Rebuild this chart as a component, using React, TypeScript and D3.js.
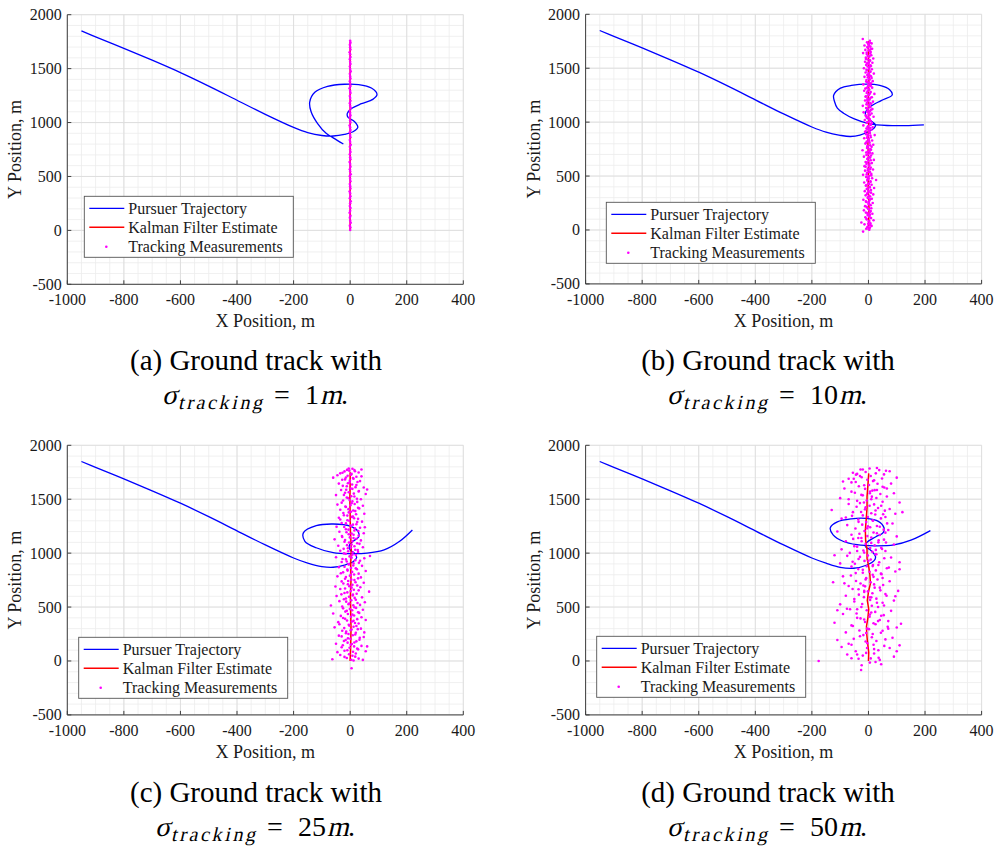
import React from 'react';
import * as d3 from 'd3';

// axis ticks and legend
const xTicks = [-1000, -800, -600, -400, -200, 0, 200, 400];
const yTicks = [-500, 0, 500, 1000, 1500, 2000];
const legendLabels = ['Pursuer Trajectory', 'Kalman Filter Estimate', 'Tracking Measurements'];
const captionLetters = ['a', 'b', 'c', 'd'];
const sigmaValues = ['1', '10', '25', '50'];

// pursuer approach leg, same in all four runs
const approach = [
  [-950, 1850], [-900, 1795], [-800, 1688], [-700, 1578], [-600, 1463], [-500, 1338],
  [-400, 1207], [-300, 1076], [-200, 955], [-150, 907],
];

const trajA = [...approach,
  [-100, 880], [-60, 875], [-20, 890], [10, 915], [27, 955], [15, 1010], [-8, 1050], [-10, 1085],
  [5, 1130], [40, 1175], [80, 1215], [95, 1260], [75, 1320], [30, 1352], [-20, 1355], [-80, 1335],
  [-125, 1280], [-143, 1190], [-138, 1100], [-115, 990], [-85, 900], [-60, 858], [-24, 801]];

const trajB = [...approach,
  [-100, 878], [-64, 867], [-30, 880], [1, 913], [20, 945], [25, 975], [12, 1005], [-5, 1040],
  [-11, 1083], [7, 1144], [45, 1200], [84, 1253], [75, 1300], [40, 1340], [-5, 1352], [-60, 1340],
  [-99, 1315], [-123, 1250], [-120, 1191], [-110, 1130], [-88, 1083], [-50, 1030], [-5, 991],
  [30, 975], [66, 969], [130, 968], [196, 975]];

const trajC = [...approach,
  [-100, 875], [-60, 869], [-20, 890], [10, 920], [23, 960], [15, 1000], [0, 1030], [-3, 1070],
  [10, 1110], [30, 1150], [28, 1200], [0, 1250], [-60, 1270], [-120, 1255], [-165, 1190],
  [-160, 1110], [-120, 1050], [-60, 1005], [0, 995], [60, 1000], [120, 1030], [175, 1110], [220, 1215]];

const trajD = [...approach,
  [-100, 868], [-52, 860], [-5, 890], [20, 930], [25, 967], [7, 1030], [-11, 1060], [-5, 1100],
  [25, 1150], [52, 1190], [55, 1235], [35, 1295], [-10, 1322], [-60, 1318], [-110, 1290],
  [-135, 1235], [-125, 1170], [-90, 1110], [-40, 1078], [20, 1068], [90, 1076], [150, 1120], [219, 1209]];

// Kalman filter estimates
const estA = [[0, 0], [0, 600], [0, 1200], [0, 1750]];
const estB = [[0, 0], [2, 200], [-1, 400], [1, 600], [-2, 800], [1, 1000], [-1, 1200], [2, 1400], [0, 1600], [0, 1750]];
const estC = [[0, 0], [2, 150], [3, 300], [2, 450], [1, 600], [3, 750], [2, 900], [4, 1050], [1, 1200], [0, 1350], [-1, 1500], [0, 1650], [0, 1750]];
const estD = [[0, 0], [1, 80], [-3, 165], [-6, 250], [-7, 320], [-2, 400], [1, 480], [-4, 560], [0, 640], [7, 720],
  [5, 800], [1, 875], [-5, 950], [-5, 1030], [-10, 1120], [-11, 1215], [-8, 1310], [-5, 1420], [-5, 1524], [-2, 1630], [1, 1740]];

// tracking measurements
const measA = [
  [0, 4], [1, 27], [-1, 44], [2, 71], [0, 90], [-1, 118], [1, 135], [-2, 163], [0, 181], [1, 207],
  [-1, 226], [0, 252], [2, 270], [-1, 298], [1, 317], [0, 343], [-2, 361], [1, 388], [0, 410], [-1, 429],
  [1, 456], [0, 478], [-1, 503], [2, 520], [0, 547], [-1, 566], [1, 591], [0, 615], [-2, 634], [1, 660],
  [0, 679], [-1, 706], [1, 727], [0, 748], [-1, 775], [2, 793], [0, 819], [-1, 838], [1, 864], [0, 884],
  [-1, 910], [1, 931], [0, 955], [-2, 973], [1, 1000], [0, 1019], [-1, 1046], [1, 1066], [0, 1090], [-1, 1111],
  [2, 1136], [0, 1156], [-1, 1180], [1, 1201], [0, 1227], [-1, 1246], [1, 1273], [0, 1292], [-2, 1317], [1, 1339],
  [0, 1362], [-1, 1384], [1, 1408], [0, 1428], [-1, 1453], [2, 1474], [0, 1497], [-1, 1519], [1, 1542], [0, 1563],
  [-1, 1588], [1, 1608], [0, 1633], [-2, 1652], [1, 1677], [0, 1699], [-1, 1722], [1, 1741], [0, 1758]];

const measB = [
  [3, 2], [-8, 12], [5, 20], [-2, 31], [11, 38], [-14, 52], [7, 61], [-25, 69], [1, 78], [18, 90],
  [-6, 98], [9, 110], [-11, 118], [4, 131], [-3, 139], [14, 150], [-9, 161], [6, 168], [-16, 182], [2, 190],
  [10, 201], [-5, 209], [-12, 221], [8, 230], [0, 242], [15, 250], [-7, 259], [3, 271], [-18, 280], [12, 290],
  [-2, 302], [6, 310], [-10, 321], [17, 330], [-4, 339], [1, 352], [-13, 360], [9, 371], [-6, 380], [20, 389],
  [4, 401], [-9, 410], [11, 420], [-1, 431], [-15, 440], [7, 452], [27, 464], [-3, 471], [13, 480], [-8, 492],
  [2, 500], [-19, 511], [10, 520], [-5, 531], [5, 540], [-12, 550], [16, 561], [-2, 570], [8, 580], [-14, 592],
  [3, 600], [-7, 612], [12, 620], [-10, 630], [0, 641], [19, 650], [-4, 659], [6, 671], [-16, 680], [9, 690],
  [-1, 702], [14, 710], [-8, 719], [3, 731], [-21, 740], [7, 749], [-5, 760], [11, 771], [-2, 780], [17, 790],
  [-11, 801], [4, 810], [-6, 821], [13, 830], [0, 839], [-15, 851], [8, 860], [-3, 871], [22, 880], [-9, 889],
  [5, 900], [-12, 911], [2, 920], [10, 930], [-7, 940], [15, 952], [-1, 961], [-18, 970], [6, 979], [12, 991],
  [-4, 1000], [8, 1011], [-13, 1020], [3, 1031], [-6, 1040], [18, 1050], [-10, 1061], [1, 1070], [11, 1080], [-17, 1091],
  [5, 1100], [-2, 1110], [14, 1121], [-8, 1130], [7, 1140], [-20, 1151], [2, 1160], [10, 1170], [-5, 1181], [16, 1190],
  [-12, 1200], [4, 1211], [-3, 1220], [12, 1231], [-9, 1240], [0, 1250], [21, 1262], [-6, 1270], [8, 1280], [-15, 1291],
  [3, 1300], [-11, 1311], [13, 1320], [-2, 1330], [6, 1341], [-18, 1350], [9, 1360], [-4, 1371], [15, 1380], [-7, 1390],
  [1, 1401], [11, 1410], [-14, 1420], [5, 1431], [-1, 1440], [19, 1450], [-10, 1461], [7, 1470], [-5, 1480], [12, 1491],
  [-16, 1500], [3, 1510], [9, 1521], [-8, 1530], [0, 1540], [14, 1551], [-12, 1560], [6, 1570], [-3, 1581], [17, 1590],
  [-9, 1600], [2, 1611], [10, 1620], [-6, 1631], [-19, 1640], [8, 1650], [4, 1661], [-11, 1670], [13, 1680], [-2, 1690],
  [7, 1700], [-14, 1711], [1, 1720], [11, 1730], [-5, 1740], [-20, 1771], [5, 1755], [-19, -15]];

const measBCore = [
  [1, 8], [-4, 25], [6, 45], [-1, 58], [3, 84], [-7, 104], [2, 125], [5, 144], [-3, 156], [8, 176],
  [-1, 196], [-6, 215], [4, 236], [1, 255], [-9, 265], [6, 284], [-2, 296], [3, 316], [-5, 334], [9, 346],
  [0, 365], [-3, 385], [5, 395], [-8, 415], [2, 426], [7, 446], [-4, 458], [1, 476], [-1, 486], [10, 506],
  [-6, 516], [3, 536], [-2, 555], [6, 566], [-10, 586], [1, 596], [4, 616], [-5, 625], [8, 646], [-1, 665],
  [2, 676], [-7, 696], [5, 715], [-3, 726], [9, 744], [0, 755], [-4, 775], [6, 785], [-8, 806], [2, 826],
  [1, 845], [-5, 856], [7, 875], [-2, 884], [4, 905], [-9, 916], [0, 935], [6, 946], [-3, 956], [8, 975],
  [-6, 995], [2, 1006], [4, 1026], [-1, 1046], [-8, 1056], [5, 1066], [1, 1086], [-4, 1096], [9, 1115], [-2, 1126],
  [3, 1146], [-7, 1165], [6, 1176], [0, 1196], [-4, 1206], [7, 1226], [-10, 1236], [2, 1256], [5, 1266], [-3, 1286],
  [1, 1306], [-6, 1316], [8, 1336], [-1, 1346], [3, 1366], [-8, 1376], [5, 1396], [-2, 1416], [9, 1426], [-4, 1436],
  [0, 1456], [6, 1466], [-7, 1486], [2, 1496], [-3, 1516], [7, 1526], [-5, 1546], [1, 1556], [4, 1576], [-9, 1586],
  [3, 1606], [-2, 1616], [6, 1636], [-6, 1646], [1, 1666], [8, 1676], [-4, 1696], [2, 1706], [-1, 1726], [5, 1736]];

const measC = [
  [-63, 16], [12, 5], [30, 22], [-20, 38], [45, 10], [-35, 55], [8, 48], [20, 70], [-45, 82], [55, 90],
  [-10, 100], [25, 115], [-30, 128], [40, 140], [2, 150], [-50, 160], [60, 135], [15, 172], [-22, 185], [33, 198],
  [-8, 210], [48, 222], [-40, 235], [18, 245], [-15, 258], [50, 265], [-28, 280], [5, 292], [38, 300], [-55, 312],
  [22, 325], [-5, 335], [30, 348], [-42, 360], [12, 372], [55, 380], [-18, 392], [40, 405], [-33, 418], [8, 430],
  [-60, 440], [28, 452], [-12, 465], [45, 475], [-25, 488], [15, 498], [-68, 514], [35, 520], [-3, 532], [52, 545],
  [-38, 555], [20, 568], [-15, 580], [42, 590], [-48, 602], [10, 615], [67, 643], [-20, 630], [30, 655], [-35, 668],
  [5, 680], [-52, 690], [25, 700], [-8, 712], [48, 725], [-30, 738], [15, 750], [-18, 762], [38, 775], [-45, 785],
  [2, 798], [30, 810], [-25, 822], [55, 835], [-10, 848], [20, 860], [-40, 870], [42, 882], [-5, 895], [12, 905],
  [-30, 918], [35, 930], [-15, 942], [50, 952], [-50, 962], [70, 974], [8, 985], [-22, 998], [28, 1010], [-35, 1022],
  [18, 1032], [-8, 1045], [45, 1055], [-42, 1068], [5, 1080], [25, 1092], [-20, 1105], [38, 1118], [-55, 1128], [12, 1140],
  [-28, 1150], [30, 1162], [-5, 1175], [48, 1185], [-38, 1198], [15, 1210], [-15, 1222], [35, 1235], [-48, 1245], [2, 1255],
  [22, 1268], [-30, 1280], [42, 1292], [-10, 1305], [28, 1318], [-40, 1328], [10, 1340], [-22, 1352], [50, 1365], [-5, 1378],
  [18, 1390], [-35, 1402], [32, 1415], [-15, 1428], [45, 1440], [-45, 1450], [5, 1462], [25, 1475], [-25, 1488], [38, 1500],
  [-8, 1512], [15, 1525], [-50, 1538], [55, 1548], [-18, 1560], [30, 1572], [-32, 1585], [8, 1596], [48, 1608], [-12, 1620],
  [22, 1632], [-40, 1645], [-2, 1655], [35, 1668], [-28, 1680], [12, 1690], [-15, 1702], [40, 1712], [-45, 1722], [5, 1735],
  [30, 1748], [-20, 1758], [15, 1770], [40, 1776], [-35, 1740], [5, -67], [-5, 1785], [60, 1590], [-60, 1700], [52, 1240]];

const measCCore = [
  [4, 12], [-12, 28], [18, 40], [-4, 62], [10, 85], [-20, 95], [28, 108], [-2, 122], [14, 135], [-26, 146],
  [6, 158], [-9, 170], [22, 182], [-16, 195], [1, 205], [34, 215], [-30, 228], [9, 238], [-6, 250], [20, 262],
  [-14, 272], [2, 285], [27, 295], [-21, 305], [12, 318], [-3, 328], [-38, 340], [17, 352], [6, 365], [-11, 376],
  [25, 388], [-25, 398], [3, 410], [14, 422], [-8, 436], [32, 446], [-17, 458], [7, 470], [-1, 482], [21, 492],
  [-28, 505], [11, 516], [-6, 527], [26, 538], [-14, 550], [4, 562], [-22, 573], [16, 585], [-4, 596], [9, 608],
  [-31, 618], [23, 624], [-10, 636], [2, 648], [13, 660], [-18, 672], [36, 684], [-3, 694], [8, 706], [-24, 718],
  [19, 730], [-7, 742], [4, 754], [28, 766], [-15, 778], [-1, 790], [14, 802], [-33, 814], [7, 826], [-9, 838],
  [24, 850], [3, 862], [-20, 874], [11, 886], [-5, 898], [31, 910], [-12, 922], [18, 934], [-27, 946], [5, 958],
  [-2, 970], [20, 982], [-16, 994], [9, 1006], [-7, 1018], [27, 1028], [-23, 1040], [3, 1052], [15, 1064], [-11, 1074],
  [33, 1086], [-4, 1098], [8, 1110], [-18, 1122], [22, 1134], [-1, 1146], [-29, 1158], [12, 1170], [5, 1182], [-13, 1194],
  [29, 1206], [-6, 1218], [17, 1230], [-21, 1242], [2, 1252], [10, 1264], [-15, 1276], [25, 1288], [-3, 1300], [-35, 1312],
  [14, 1324], [6, 1336], [-10, 1348], [21, 1360], [-24, 1372], [3, 1384], [11, 1396], [-6, 1408], [28, 1420], [-17, 1432],
  [1, 1444], [16, 1456], [-30, 1468], [8, 1480], [-2, 1492], [24, 1504], [-12, 1516], [4, 1528], [-22, 1540], [13, 1552],
  [-5, 1564], [31, 1576], [-14, 1588], [2, 1600], [19, 1612], [-26, 1624], [7, 1636], [-8, 1648], [26, 1660], [-1, 1672],
  [-18, 1684], [10, 1696], [22, 1708], [-9, 1718], [3, 1728], [-27, 1745], [17, 1760], [-11, 1772], [8, 1782], [-3, 1765]];

const measD = [
  [-176, 0], [-26, -83], [5, -15], [40, 10], [-60, 25], [90, 40], [-20, 50], [75, 120], [-95, 130], [20, 70],
  [-45, 90], [110, 145], [-70, 160], [35, 100], [-10, 180], [60, 200], [-110, 195], [85, 215], [-30, 230], [15, 250],
  [-80, 265], [50, 280], [-5, 300], [100, 310], [-55, 325], [25, 340], [-120, 355], [70, 370], [-15, 385], [115, 345],
  [-40, 400], [45, 420], [-90, 435], [10, 450], [80, 465], [-65, 480], [-25, 500], [55, 515], [-100, 525], [30, 540],
  [90, 560], [-50, 575], [5, 590], [-80, 605], [60, 620], [-15, 640], [105, 650], [-35, 665], [40, 680], [-70, 695],
  [20, 710], [-125, 730], [75, 740], [-10, 755], [50, 770], [-90, 785], [15, 800], [-45, 815], [95, 830], [-20, 845],
  [65, 860], [-60, 875], [35, 890], [-100, 905], [110, 915], [0, 930], [-35, 945], [80, 960], [-75, 975], [25, 990],
  [-15, 1005], [60, 1020], [-95, 1035], [45, 1050], [-50, 1065], [90, 1080], [10, 1095], [-80, 1110], [55, 1125], [-25, 1140],
  [100, 1155], [-60, 1170], [30, 1185], [-110, 1200], [70, 1215], [-5, 1230], [40, 1245], [-75, 1260], [85, 1275], [-35, 1290],
  [15, 1305], [-95, 1320], [60, 1335], [-20, 1350], [95, 1365], [-55, 1380], [25, 1395], [-130, 1400], [75, 1410], [-10, 1425],
  [45, 1440], [-70, 1455], [110, 1470], [-40, 1485], [10, 1500], [-100, 1510], [65, 1525], [-25, 1540], [90, 1555], [-60, 1570],
  [30, 1585], [-85, 1600], [50, 1615], [-15, 1630], [80, 1645], [-45, 1660], [20, 1675], [-70, 1690], [100, 1700], [-30, 1715],
  [55, 1730], [-55, 1745], [75, 1760], [-20, 1775], [30, 1790], [-40, 1735], [65, 1600], [-90, 1665], [5, 1555], [120, 1380],
  [-80, 1330], [60, 1190], [-120, 980], [110, 850], [-85, 720], [95, 600], [-110, 470], [70, 300], [-60, 150], [100, 90],
  [-35, 20], [45, -30], [-75, 60], [25, -10], [-5, 120], [35, 1100], [-40, 1020], [15, 880], [-15, 650], [5, 430]];

const measDCore = [
  [8, 24], [-24, -40], [36, 30], [-8, 75], [20, 110], [-40, 60], [56, 140], [-4, 165], [28, 185], [-52, 205],
  [12, 220], [-18, 240], [44, 262], [-32, 282], [2, 295], [68, 318], [-60, 330], [18, 350], [-12, 362], [40, 380],
  [-28, 395], [4, 410], [54, 425], [-42, 440], [24, 455], [-6, 470], [-76, 485], [34, 500], [12, 512], [-22, 528],
  [50, 540], [-50, 552], [6, 565], [28, 578], [-16, 592], [64, 605], [-34, 615], [14, 628], [-2, 645], [42, 655],
  [-56, 668], [22, 680], [-12, 692], [52, 705], [-28, 718], [8, 730], [-44, 742], [32, 755], [-8, 768], [18, 780],
  [-62, 792], [46, 805], [-20, 818], [4, 828], [26, 840], [-36, 852], [72, 866], [-6, 878], [16, 890], [-48, 902],
  [38, 915], [-14, 928], [8, 940], [56, 952], [-30, 965], [-2, 978], [28, 990], [-66, 1002], [14, 1012], [-18, 1025],
  [48, 1038], [6, 1048], [-40, 1060], [22, 1072], [-10, 1085], [62, 1098], [-24, 1110], [36, 1120], [-54, 1132], [10, 1145],
  [-4, 1158], [40, 1168], [-32, 1180], [18, 1192], [-14, 1205], [54, 1218], [-46, 1228], [6, 1240], [30, 1252], [-22, 1264],
  [66, 1276], [-8, 1288], [16, 1300], [-36, 1312], [44, 1322], [-2, 1335], [-58, 1346], [24, 1358], [10, 1370], [-26, 1382],
  [58, 1394], [-12, 1406], [34, 1418], [-42, 1430], [4, 1440], [20, 1452], [-30, 1464], [50, 1476], [-6, 1488], [-70, 1500],
  [28, 1512], [12, 1524], [-20, 1536], [42, 1548], [-48, 1560], [6, 1572], [22, 1584], [-12, 1596], [56, 1608], [-34, 1620],
  [2, 1632], [32, 1644], [-60, 1656], [16, 1668], [-4, 1680], [48, 1692], [-24, 1704], [8, 1716], [-44, 1728], [26, 1740],
  [-10, 1752], [62, 1764], [-28, 1776], [4, 1785], [38, 1770], [-52, 1690], [14, 1580], [-16, 1470], [52, 1360], [-2, 1250],
  [-36, 1140], [26, 1030], [-56, 920], [44, 810], [-18, 700], [10, 590], [-40, 480], [34, 370], [-8, 260], [18, 150]];

const FONT = "'Liberation Serif', 'Times New Roman', Times, serif";
const PW = 396;
const PH = 269.6;

const panels = [
  { left: 67.3, top: 14.7, legend: [84.3, 196.3], capX: 256, capY: 370, traj: trajA, est: estA, meas: measA },
  { left: 585.6, top: 14.3, legend: [606.3, 202.3], capX: 768, capY: 370, traj: trajB, est: estB, meas: [...measBCore, ...measB] },
  { left: 67.3, top: 445.3, legend: [78.7, 637.3], capX: 256, capY: 802, traj: trajC, est: estC, meas: [...measCCore, ...measC] },
  { left: 585.6, top: 445.3, legend: [596.7, 636.3], capX: 768, capY: 802, traj: trajD, est: estD, meas: [...measDCore, ...measD] },
];

// serif italic drawn by slanting the upright face
function Slanted({ x, y, size, children, textLength }: any) {
  return (
    <g transform={`translate(${x},${y}) skewX(-13)`}>
      <text x={0} y={0} fontSize={size} fill="#000" textLength={textLength} lengthAdjust={textLength ? 'spacing' : undefined}>{children}</text>
    </g>
  );
}

function Panel({ p, i }) {
  const x = d3.scaleLinear().domain([-1000, 400]).range([p.left, p.left + PW]);
  const y = d3.scaleLinear().domain([-500, 2000]).range([p.top + PH, p.top]);
  const line = d3.line<number[]>()
    .x(d => x(d[0]))
    .y(d => y(d[1]))
    .curve(d3.curveCatmullRom.alpha(0.5));
  const straight = d3.line<number[]>().x(d => x(d[0])).y(d => y(d[1]));
  const minorX = d3.range(-1000, 401, 50);
  const minorY = d3.range(-500, 2001, 100);
  const bottom = p.top + PH;

  const [lx, ly] = p.legend;
  const sigma = sigmaValues[i];
  const numW = sigma.length * 14;
  const start = p.capX - 3 - (143 + numW + 25) / 2;
  const cap2 = p.capY + 34;
  const numX = start + 143;

  return (
    <g fontFamily={FONT}>
      {/* grid */}
      {minorX.map(v => (
        <line key={'mx' + v} x1={x(v)} x2={x(v)} y1={p.top} y2={bottom} stroke="#ececec" strokeWidth={0.8} />
      ))}
      {minorY.map(v => (
        <line key={'my' + v} x1={p.left} x2={p.left + PW} y1={y(v)} y2={y(v)} stroke="#ececec" strokeWidth={0.8} />
      ))}
      {xTicks.map(v => (
        <line key={'gx' + v} x1={x(v)} x2={x(v)} y1={p.top} y2={bottom} stroke="#dcdcdc" strokeWidth={0.9} />
      ))}
      {yTicks.map(v => (
        <line key={'gy' + v} x1={p.left} x2={p.left + PW} y1={y(v)} y2={y(v)} stroke="#dcdcdc" strokeWidth={0.9} />
      ))}

      {/* axes */}
      <line x1={p.left} x2={p.left + PW} y1={bottom} y2={bottom} stroke="#404040" strokeWidth={1} />
      <line x1={p.left} x2={p.left} y1={p.top} y2={bottom} stroke="#404040" strokeWidth={1} />
      {xTicks.map(v => (
        <g key={'tx' + v}>
          <line x1={x(v)} x2={x(v)} y1={bottom} y2={bottom - 4} stroke="#404040" strokeWidth={1} />
          <text x={x(v)} y={bottom + 21} textAnchor="middle" fontSize={16} fill="#1a1a1a">{v}</text>
        </g>
      ))}
      {yTicks.map(v => (
        <g key={'ty' + v}>
          <line x1={p.left} x2={p.left + 4} y1={y(v)} y2={y(v)} stroke="#404040" strokeWidth={1} />
          <text x={p.left - 5.5} y={y(v) + 5.5} textAnchor="end" fontSize={16} fill="#1a1a1a">{v}</text>
        </g>
      ))}
      <text x={p.left + PW / 2} y={bottom + 43} textAnchor="middle" fontSize={18} fill="#1a1a1a">X Position, m</text>
      <text transform={`translate(${p.left - 46},${p.top + PH / 2}) rotate(-90)`} textAnchor="middle" fontSize={18} fill="#1a1a1a">Y Position, m</text>

      {/* data */}
      <path d={line(p.traj) || ''} fill="none" stroke="#0000ff" strokeWidth={1.3} />
      <path d={straight(p.est) || ''} fill="none" stroke="#ff0000" strokeWidth={1.5} />
      {p.meas.map((d, k) => (
        <circle key={k} cx={x(d[0])} cy={y(d[1])} r={1.3} fill="#ff00ff" />
      ))}

      {/* legend */}
      <rect x={lx} y={ly} width={209} height={61} fill="#ffffff" stroke="#555555" strokeWidth={0.9} />
      <line x1={lx + 5} x2={lx + 40} y1={ly + 12} y2={ly + 12} stroke="#0000ff" strokeWidth={1.3} />
      <line x1={lx + 5} x2={lx + 40} y1={ly + 31} y2={ly + 31} stroke="#ff0000" strokeWidth={1.5} />
      <circle cx={lx + 22} cy={ly + 50.5} r={1.3} fill="#ff00ff" />
      {legendLabels.map((t, k) => (
        <text key={t} x={lx + 44} y={ly + 12 + k * 19.3 + 5.5} fontSize={16} fill="#1a1a1a">{t}</text>
      ))}

      {/* caption */}
      <text x={p.capX} y={p.capY} textAnchor="middle" fontSize={29} fill="#000">
        ({captionLetters[i]}) Ground track with
      </text>
      <Slanted x={start} y={cap2} size={28}>σ</Slanted>
      <Slanted x={start + 16} y={cap2 + 5} size={20} textLength={84}>tracking</Slanted>
      <text x={start + 112} y={cap2} fontSize={28} fill="#000">=</text>
      <text x={numX} y={cap2} fontSize={28} fill="#000">{sigma}</text>
      <Slanted x={numX + numW + 1} y={cap2} size={28}>m</Slanted>
      <text x={numX + numW + 22} y={cap2} fontSize={28} fill="#000">.</text>
    </g>
  );
}

export default function App() {
  return (
    <svg width={997} height={848} style={{ position: 'absolute', left: 0, top: 0, background: '#fff' }}>
      <rect x={0} y={0} width={997} height={848} fill="#ffffff" />
      {panels.map((p, i) => <Panel key={i} p={p} i={i} />)}
    </svg>
  );
}
